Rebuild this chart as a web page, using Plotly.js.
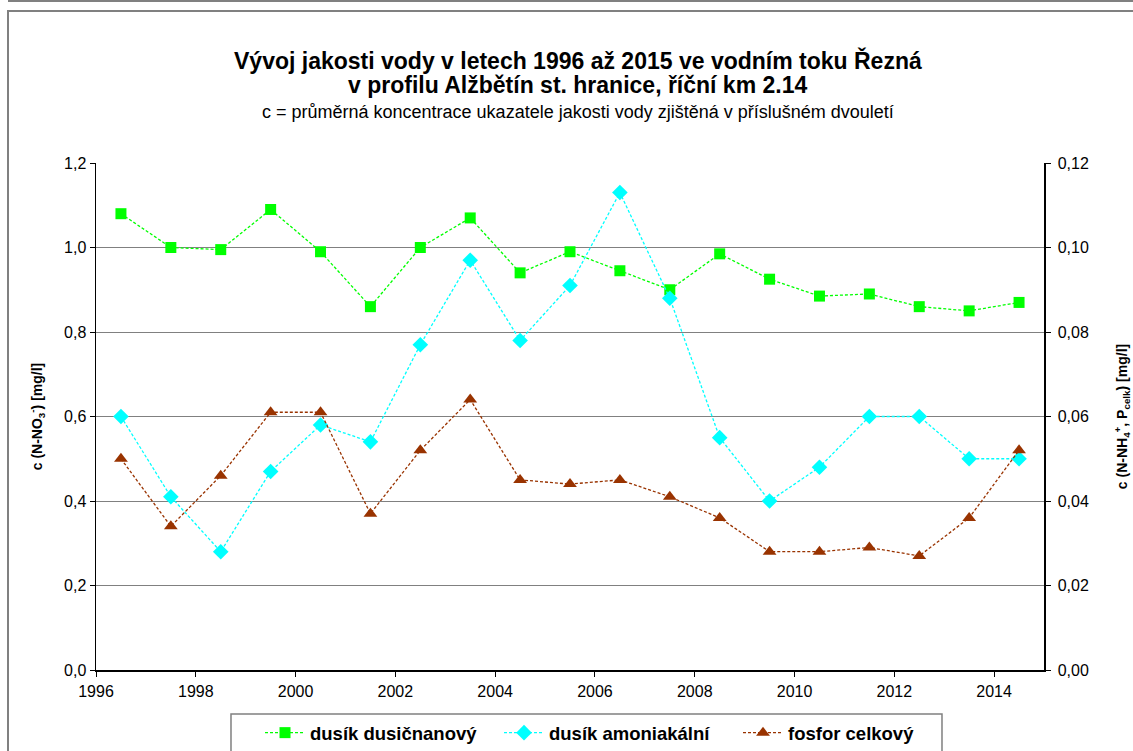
<!DOCTYPE html>
<html>
<head>
<meta charset="utf-8">
<script src="https://cdn.plot.ly/plotly-3.0.1.min.js"></script>
<style>
  html, body { margin:0; padding:0; background:#fff; }
  #wrap { position:relative; width:1133px; height:751px; overflow:hidden; background:#fff; }
  #chart { position:absolute; left:0; top:0; width:1133px; height:751px; }
  .frame { position:absolute; pointer-events:none; }
</style>
</head>
<body>
<div id="wrap">
  <div id="chart"></div>
  <div class="frame" style="left:8px; top:-10px; width:1200px; height:10px; border-left:2px solid #808080; border-bottom:2px solid #808080;"></div>
  <div class="frame" style="left:7px; top:10px; width:1200px; height:800px; border-left:2px solid #808080; border-top:2px solid #808080;"></div>
</div>
<script>
// x positions: middle of each two-year period (year values)
const years = [1996.5, 1997.5, 1998.5, 1999.5, 2000.5, 2001.5, 2002.5, 2003.5, 2004.5, 2005.5,
               2006.5, 2007.5, 2008.5, 2009.5, 2010.5, 2011.5, 2012.5, 2013.5, 2014.5];

// dusík dusičnanový (N-NO3-) [mg/l] — left axis
const dusikDusicnanovy = [1.08, 1.00, 0.995, 1.09, 0.99, 0.86, 1.00, 1.07, 0.94, 0.99,
                          0.945, 0.90, 0.985, 0.925, 0.885, 0.89, 0.86, 0.85, 0.87];

// dusík amoniakální (N-NH4+) [mg/l] — right axis
const dusikAmoniakalni = [0.060, 0.041, 0.028, 0.047, 0.058, 0.054, 0.077, 0.097, 0.078, 0.091,
                          0.113, 0.088, 0.055, 0.040, 0.048, 0.060, 0.060, 0.050, 0.050];

// fosfor celkový (P celk) [mg/l] — right axis
const fosforCelkovy = [0.050, 0.034, 0.046, 0.061, 0.061, 0.037, 0.052, 0.064, 0.045, 0.044,
                       0.045, 0.041, 0.036, 0.028, 0.028, 0.029, 0.027, 0.036, 0.052];

const seriesNames = ["dusík dusičnanový", "dusík amoniakální", "fosfor celkový"];

const xTicks = [1996, 1998, 2000, 2002, 2004, 2006, 2008, 2010, 2012, 2014];

const titleLines = [
  "Vývoj jakosti vody v letech 1996 až 2015 ve vodním toku Řezná",
  "v profilu Alžbětín st. hranice, říční km 2.14",
  "c = průměrná koncentrace ukazatele jakosti vody zjištěná v příslušném dvouletí"
];

const FONT = "Liberation Sans, Arial, sans-serif";

const traces = [
  {
    x: years, y: dusikDusicnanovy, name: seriesNames[0], type: "scatter", mode: "lines+markers",
    yaxis: "y",
    line: { color: "#00FF00", width: 1.3, dash: "3px,2px" },
    marker: { symbol: "square", size: 11, color: "#00FF00", line: { width: 0 } }
  },
  {
    x: years, y: dusikAmoniakalni, name: seriesNames[1], type: "scatter", mode: "lines+markers",
    yaxis: "y2",
    line: { color: "#00FFFF", width: 1.3, dash: "3px,2px" },
    marker: { symbol: "diamond", size: 12, color: "#00FFFF", line: { width: 0 } }
  },
  {
    x: years, y: fosforCelkovy, name: seriesNames[2], type: "scatter", mode: "lines+markers",
    yaxis: "y2",
    line: { color: "#993300", width: 1.3, dash: "3px,2px" },
    marker: { symbol: "triangle-up", size: 12, color: "#993300", line: { width: 0 } }
  }
];

const layout = {
  width: 1133, height: 751,
  margin: { l: 96, r: 89, t: 163, b: 81, autoexpand: false },
  paper_bgcolor: "rgba(0,0,0,0)",
  plot_bgcolor: "#ffffff",
  separators: ", ",
  showlegend: true,
  font: { family: FONT, size: 16, color: "#000" },
  xaxis: {
    range: [1996, 2015], tickmode: "array", tickvals: xTicks, ticktext: xTicks.map(String),
    showgrid: false, zeroline: false,
    showline: true, linecolor: "#000", linewidth: 1.5,
    ticks: "outside", ticklen: 5, tickcolor: "#000", tickwidth: 1,
    ticklabelstandoff: 1,
    tickfont: { family: FONT, size: 16, color: "#000" }
  },
  yaxis: {
    range: [0, 1.2], dtick: 0.2, tick0: 0, tickformat: ".1f",
    showgrid: true, gridcolor: "#808080", gridwidth: 1, zeroline: false,
    showline: true, linecolor: "#000", linewidth: 1.5,
    ticks: "outside", ticklen: 5, tickcolor: "#000",
    tickfont: { family: FONT, size: 16, color: "#000" },
    title: { text: "<b>c (N-NO<sub>3</sub><sup>-</sup>) [mg/l]</b>", font: { family: FONT, size: 14, color: "#000" }, standoff: 18 }
  },
  yaxis2: {
    range: [0, 0.12], dtick: 0.02, tick0: 0, tickformat: ".2f",
    overlaying: "y", side: "right",
    showgrid: false, zeroline: false,
    showline: true, linecolor: "#000", linewidth: 1.5,
    ticks: "outside", ticklen: 5, tickcolor: "#000",
    ticklabelstandoff: 4,
    tickfont: { family: FONT, size: 16, color: "#000" },
    title: { text: "<b>c (N-NH<sub>4</sub><sup>+</sup>, P<sub>celk</sub>) [mg/l]</b>", font: { family: FONT, size: 14, color: "#000" }, standoff: 29 }
  },
  legend: {
    orientation: "h", x: 0.173, xanchor: "left", y: -0.087, yanchor: "top",
    borderwidth: 0, bgcolor: "rgba(0,0,0,0)",
    font: { family: FONT, size: 18.5, color: "#000", weight: "bold" },
    entrywidth: 184, entrywidthmode: "pixels", itemwidth: 40,
    traceorder: "normal"
  },
  shapes: [
    { type: "rect", xref: "paper", yref: "paper", x0: 0.1424, x1: 0.8924, y0: -0.0868, y1: -0.18,
      line: { color: "#808080", width: 1.5 }, fillcolor: "rgba(0,0,0,0)", layer: "below" }
  ],
  annotations: [
    { text: "<b>" + titleLines[0] + "</b>", xref: "paper", yref: "paper", x: 0.508, y: 1.203,
      xanchor: "center", yanchor: "middle", showarrow: false, font: { family: FONT, size: 23, color: "#000" } },
    { text: "<b>" + titleLines[1] + "</b>", xref: "paper", yref: "paper", x: 0.508, y: 1.1538,
      xanchor: "center", yanchor: "middle", showarrow: false, font: { family: FONT, size: 23, color: "#000" } },
    { text: titleLines[2], xref: "paper", yref: "paper", x: 0.508, y: 1.101,
      xanchor: "center", yanchor: "middle", showarrow: false, font: { family: FONT, size: 18, color: "#000" } }
  ]
};

Plotly.newPlot("chart", traces, layout, { displayModeBar: false, staticPlot: true });
</script>
</body>
</html>
